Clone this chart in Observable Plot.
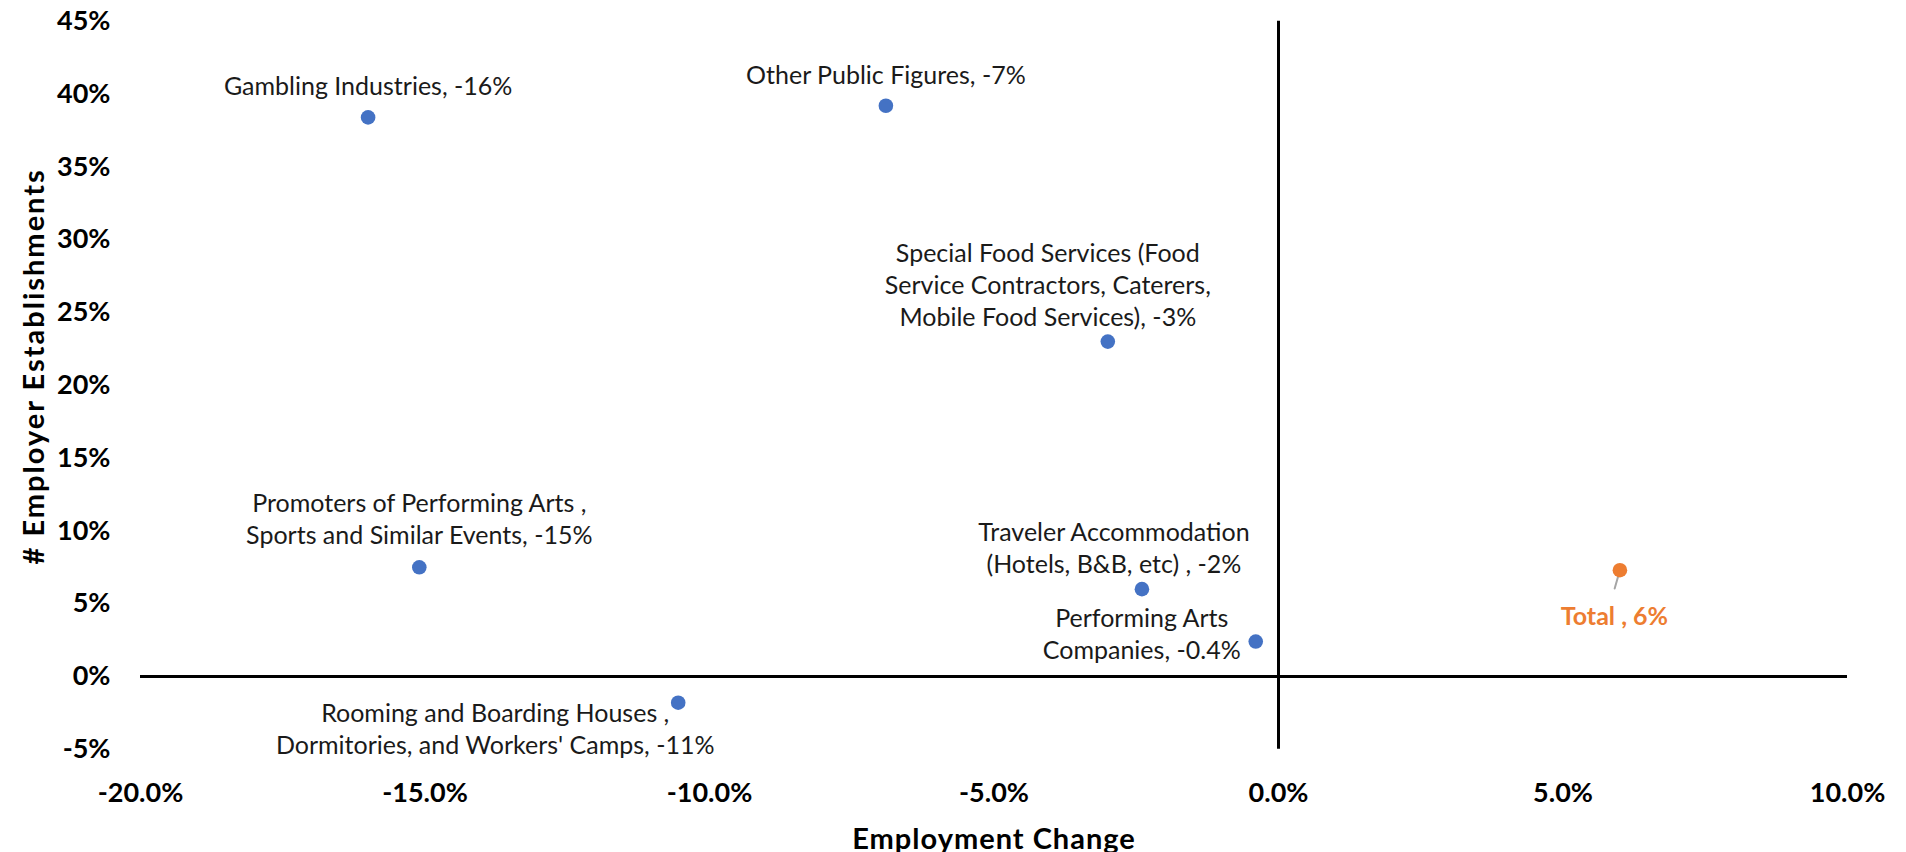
<!DOCTYPE html>
<html>
<head>
<meta charset="utf-8">
<script src="https://cdn.jsdelivr.net/npm/d3@7"></script>
<script src="https://cdn.jsdelivr.net/npm/@observablehq/plot@0.6"></script>
<style>
  html, body { margin: 0; padding: 0; background: #fff; }
  #chart svg { display: block; }
</style>
</head>
<body>
<div id="chart"></div>
<script>
// ---- data ----
const industries = [
  "Gambling Industries",
  "Other Public Figures",
  "Special Food Services",
  "Promoters of Performing Arts",
  "Traveler Accommodation",
  "Performing Arts Companies",
  "Rooming and Boarding Houses",
  "Total"
];
const labelTexts = [
  "Gambling Industries, -16%",
  "Other Public Figures, -7%",
  "Special Food Services (Food\nService Contractors, Caterers,\nMobile Food Services), -3%",
  "Promoters of Performing Arts ,\nSports and Similar Events, -15%",
  "Traveler Accommodation\n(Hotels, B&B, etc) , -2%",
  "Performing Arts\nCompanies, -0.4%",
  "Rooming and Boarding Houses ,\nDormitories, and Workers' Camps, -11%",
  "Total , 6%"
];
const employmentChange = [-16.0, -6.9, -3.0, -15.1, -2.4, -0.4, -10.55, 6.0];   // %
const employerEstablishments = [38.4, 39.2, 23.0, 7.5, 6.0, 2.4, -1.8, 7.3];   // %
const groups = ["Industry", "Industry", "Industry", "Industry", "Industry", "Industry", "Industry", "Total"];
const xTicks = [-20, -15, -10, -5, 0, 5, 10];
const yTicks = [-5, 0, 5, 10, 15, 20, 25, 30, 35, 40, 45];
const xTitle = "Employment Change";
const yTitle = "# Employer Establishments";

const data = industries.map((name, i) => ({
  name, label: labelTexts[i], x: employmentChange[i], y: employerEstablishments[i], group: groups[i]
}));

// ---- styling ----
const BLUE = "#4472C4", ORANGE = "#ED7D31", LEADER = "#A5A5A5";
const FONT = "Lato, 'Open Sans', sans-serif";
// label offsets (pixels) relative to each point
const labelOffset = {
  "Gambling Industries": [0, -33],
  "Other Public Figures": [0, -31.5],
  "Special Food Services": [-60, -58],
  "Promoters of Performing Arts": [0, -50],
  "Traveler Accommodation": [-28, -42],
  "Performing Arts Companies": [-114, -8.5],
  "Rooming and Boarding Houses": [-183, 25],
  "Total": [-5.5, 45]
};

const leaderShape = {
  draw(context, l) { context.moveTo(0, 0); context.lineTo(0, -l); }
};

const labelMarks = data.map(d => {
  const [dx, dy] = labelOffset[d.name];
  const isTotal = d.group === "Total";
  return Plot.text([d], {
    x: "x", y: "y", text: "label",
    dx, dy,
    textAnchor: "middle", lineAnchor: "middle", lineHeight: 1.28,
    fontSize: 25, fontFamily: FONT,
    fontWeight: isTotal ? "bold" : "normal",
    fill: isTotal ? ORANGE : "#1a1a1a"
  });
});

const chart = Plot.plot({
  width: 1906,
  height: 852,
  marginLeft: 140,
  marginRight: 59,
  marginTop: 20.8,
  marginBottom: 103.2,
  style: { fontFamily: FONT, background: "#fff", overflow: "visible" },
  x: { domain: [-20, 10], ticks: xTicks, tickFormat: d => d.toFixed(1) + "%", label: null },
  y: { domain: [-5, 45], ticks: yTicks, tickFormat: d => d + "%", label: null },
  marks: [
    Plot.axisX({ ticks: xTicks, tickFormat: d => d.toFixed(1) + "%", tickSize: 0, tickPadding: 34,
      fontSize: 27, fontWeight: "bold", fill: "#000", label: null }),
    Plot.axisY({ ticks: yTicks, tickFormat: d => d + "%", tickSize: 0, tickPadding: 30,
      fontSize: 27, fontWeight: "bold", fill: "#000", label: null }),
    Plot.ruleY([0], { stroke: "#000", strokeWidth: 3 }),
    Plot.ruleX([0], { stroke: "#000", strokeWidth: 3 }),
    Plot.vector(data.filter(d => d.group === "Total"), {
      x: "x", y: "y", length: 19, rotate: 196, anchor: "start",
      stroke: LEADER, strokeWidth: 2, shape: leaderShape
    }),
    Plot.dot(data, {
      x: "x", y: "y", r: 7.3,
      fill: d => d.group === "Total" ? ORANGE : BLUE, stroke: "none"
    }),
    ...labelMarks,
    Plot.text([xTitle], {
      frameAnchor: "bottom", dy: 90, text: d => d, textAnchor: "middle",
      fontSize: 29, fontWeight: "bold", fill: "#000", lineAnchor: "middle"
    }),
    Plot.text([yTitle], {
      frameAnchor: "left", dx: -106, dy: -19, rotate: -90, text: d => d, textAnchor: "middle",
      fontSize: 29, fontWeight: "bold", fill: "#000", lineAnchor: "middle"
    })
  ]
});

// letter spacing of the axis titles (Excel-like wide tracking)
d3.select(chart).selectAll("text").each(function() {
  const t = this.textContent;
  if (t === xTitle) this.style.letterSpacing = "1px";
  if (t === yTitle) this.style.letterSpacing = "2px";
});

document.getElementById("chart").appendChild(chart);
</script>
</body>
</html>
